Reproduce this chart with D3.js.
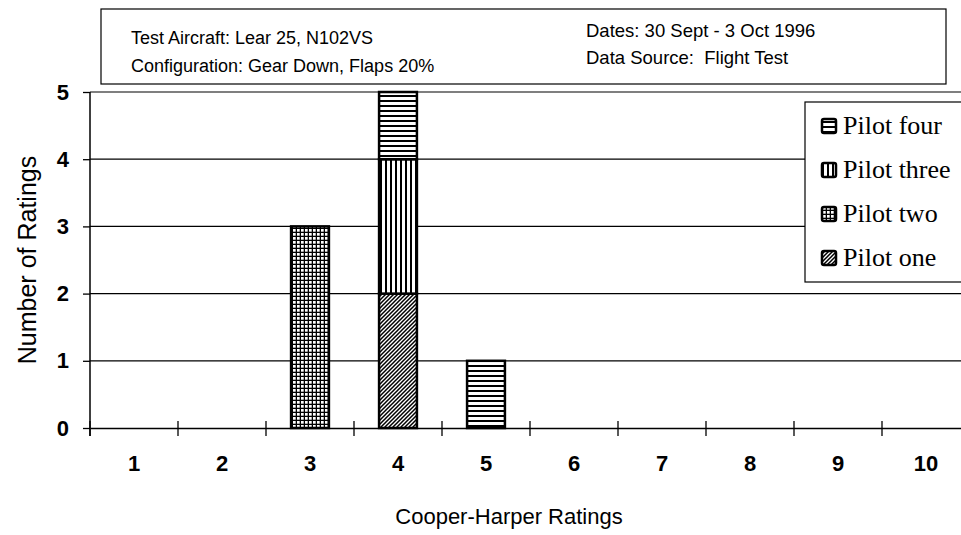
<!DOCTYPE html>
<html>
<head>
<meta charset="utf-8">
<script src="https://cdn.jsdelivr.net/npm/d3@7"></script>
<style>
  body { margin: 0; background: #fff; }
  svg { display: block; }
</style>
</head>
<body>
<svg id="chart" width="961" height="535"></svg>
<script>
// --- data ---
const ratings = ["1", "2", "3", "4", "5", "6", "7", "8", "9", "10"];
const pilotOne   = [0, 0, 0, 2, 0, 0, 0, 0, 0, 0];
const pilotTwo   = [0, 0, 3, 0, 0, 0, 0, 0, 0, 0];
const pilotThree = [0, 0, 0, 2, 0, 0, 0, 0, 0, 0];
const pilotFour  = [0, 0, 0, 1, 1, 0, 0, 0, 0, 0];
const seriesNames = ["Pilot one", "Pilot two", "Pilot three", "Pilot four"];
const yTicks = [0, 1, 2, 3, 4, 5];
const headerLeft = ["Test Aircraft: Lear 25, N102VS", "Configuration: Gear Down, Flaps 20%"];
const headerRight = ["Dates: 30 Sept - 3 Oct 1996", "Data Source:  Flight Test"];

const table = ratings.map((r, i) => ({
  rating: r,
  "Pilot one": pilotOne[i],
  "Pilot two": pilotTwo[i],
  "Pilot three": pilotThree[i],
  "Pilot four": pilotFour[i]
}));
const stacked = d3.stack().keys(seriesNames)(table);

const svg = d3.select("#chart");
const margin = {top: 92, left: 90, bottom: 428, right: 970};
const sans = "Liberation Sans, Arial, sans-serif";

const x = d3.scaleBand()
  .domain(ratings)
  .range([margin.left, margin.right])
  .paddingInner(0.57)
  .paddingOuter(0.285);

const y = d3.scaleLinear()
  .domain([0, 5])
  .range([margin.bottom, margin.top]);

// --- patterns ---
const defs = svg.append("defs");
const p1 = defs.append("pattern").attr("id", "pat-one")
  .attr("patternUnits", "userSpaceOnUse").attr("width", 4).attr("height", 4);
p1.append("rect").attr("width", 4).attr("height", 4).attr("fill", "#fff");
p1.append("path").attr("d", "M-1,5 L5,-1 M-1,1 L1,-1 M3,5 L5,3")
  .attr("stroke", "#000").attr("stroke-width", 1.5);

const p2 = defs.append("pattern").attr("id", "pat-two")
  .attr("patternUnits", "userSpaceOnUse").attr("width", 4).attr("height", 4);
p2.append("rect").attr("width", 4).attr("height", 4).attr("fill", "#000");
p2.append("rect").attr("x", 1).attr("y", 1).attr("width", 2.7).attr("height", 2.7).attr("fill", "#fff");

const p3 = defs.append("pattern").attr("id", "pat-three")
  .attr("patternUnits", "userSpaceOnUse").attr("width", 5).attr("height", 5);
p3.append("rect").attr("width", 5).attr("height", 5).attr("fill", "#fff");
p3.append("rect").attr("width", 2).attr("height", 5).attr("fill", "#000");

const p4 = defs.append("pattern").attr("id", "pat-four")
  .attr("patternUnits", "userSpaceOnUse").attr("width", 5).attr("height", 5);
p4.append("rect").attr("width", 5).attr("height", 5).attr("fill", "#fff");
p4.append("rect").attr("width", 5).attr("height", 2).attr("fill", "#000");

const fills = {
  "Pilot one": "url(#pat-one)",
  "Pilot two": "url(#pat-two)",
  "Pilot three": "url(#pat-three)",
  "Pilot four": "url(#pat-four)"
};

// --- header box ---
svg.append("rect")
  .attr("x", 101).attr("y", 9).attr("width", 845).attr("height", 75)
  .attr("fill", "#fff").attr("stroke", "#000").attr("stroke-width", 1.2);

svg.append("g").selectAll("text")
  .data(headerLeft).enter().append("text")
  .attr("x", 131).attr("y", (d, i) => 44 + i * 28)
  .style("font-family", sans)
  .style("font-size", "18px")
  .text(d => d);

svg.append("g").selectAll("text")
  .data(headerRight).enter().append("text")
  .attr("x", 586).attr("y", (d, i) => 37 + i * 27)
  .style("font-family", sans)
  .style("font-size", "18.5px")
  .style("white-space", "pre")
  .text(d => d);

// --- gridlines ---
svg.append("g").selectAll("line")
  .data(yTicks.slice(1)).enter().append("line")
  .attr("x1", margin.left).attr("x2", margin.right)
  .attr("y1", d => y(d)).attr("y2", d => y(d))
  .attr("stroke", "#000").attr("stroke-width", 1.2);

// --- y axis ---
const yAxis = svg.append("g")
  .attr("transform", `translate(${margin.left},0)`)
  .call(d3.axisLeft(y).tickValues(yTicks).tickFormat(d3.format("d"))
    .tickSize(7).tickPadding(14).tickSizeOuter(0));
yAxis.select(".domain").attr("stroke-width", 1.5)
  .attr("d", `M0,${margin.top}V${margin.bottom + 8}`);
yAxis.selectAll(".tick line").attr("stroke-width", 1.3);
yAxis.selectAll("text")
  .style("font-family", sans)
  .style("font-size", "22px")
  .style("font-weight", "bold");

// --- x axis ---
const xAxis = svg.append("g")
  .attr("transform", `translate(0,${margin.bottom})`)
  .call(d3.axisBottom(x).tickSize(0).tickPadding(27).tickSizeOuter(0));
xAxis.select(".domain").attr("stroke-width", 1.5);
xAxis.selectAll("text")
  .style("font-family", sans)
  .style("font-size", "22px")
  .style("font-weight", "bold");

// tick marks sit on the category boundaries
xAxis.selectAll("line.bound")
  .data(ratings).enter().append("line")
  .attr("class", "bound")
  .attr("x1", d => x(d) - x.step() * x.paddingInner() / 2)
  .attr("x2", d => x(d) - x.step() * x.paddingInner() / 2)
  .attr("y1", -7).attr("y2", 8)
  .attr("stroke", "#000").attr("stroke-width", 1.3);

// --- bars ---
svg.append("g").selectAll("g")
  .data(stacked).enter().append("g")
  .attr("fill", d => fills[d.key])
  .selectAll("rect")
  .data(d => d.filter(s => s[1] - s[0] > 0)).enter().append("rect")
  .attr("x", d => x(d.data.rating))
  .attr("y", d => y(d[1]))
  .attr("width", x.bandwidth())
  .attr("height", d => y(d[0]) - y(d[1]))
  .attr("stroke", "#000")
  .attr("stroke-width", 2.5);

// --- axis titles ---
svg.append("text")
  .attr("transform", `translate(36,${(margin.top + margin.bottom) / 2}) rotate(-90)`)
  .attr("text-anchor", "middle")
  .style("font-family", sans)
  .style("font-size", "25px")
  .text("Number of Ratings");

svg.append("text")
  .attr("x", 509).attr("y", 524)
  .attr("text-anchor", "middle")
  .style("font-family", sans)
  .style("font-size", "22px")
  .text("Cooper-Harper Ratings");

// --- legend ---
const legend = svg.append("g");
legend.append("rect")
  .attr("x", 805).attr("y", 102).attr("width", 170).attr("height", 180)
  .attr("fill", "#fff").attr("stroke", "#000").attr("stroke-width", 1.2);

const legendItems = legend.selectAll("g.item")
  .data(seriesNames.slice().reverse()).enter().append("g")
  .attr("class", "item")
  .attr("transform", (d, i) => `translate(822,${126 + i * 44})`);

legendItems.append("rect")
  .attr("x", 0).attr("y", -7).attr("width", 14).attr("height", 14)
  .attr("rx", 2)
  .attr("fill", d => fills[d])
  .attr("stroke", "#000").attr("stroke-width", 2.5);

legendItems.append("text")
  .attr("x", 21).attr("y", 8)
  .style("font-family", "Liberation Serif, Times New Roman, serif")
  .style("font-size", "26px")
  .text(d => d);
</script>
</body>
</html>
